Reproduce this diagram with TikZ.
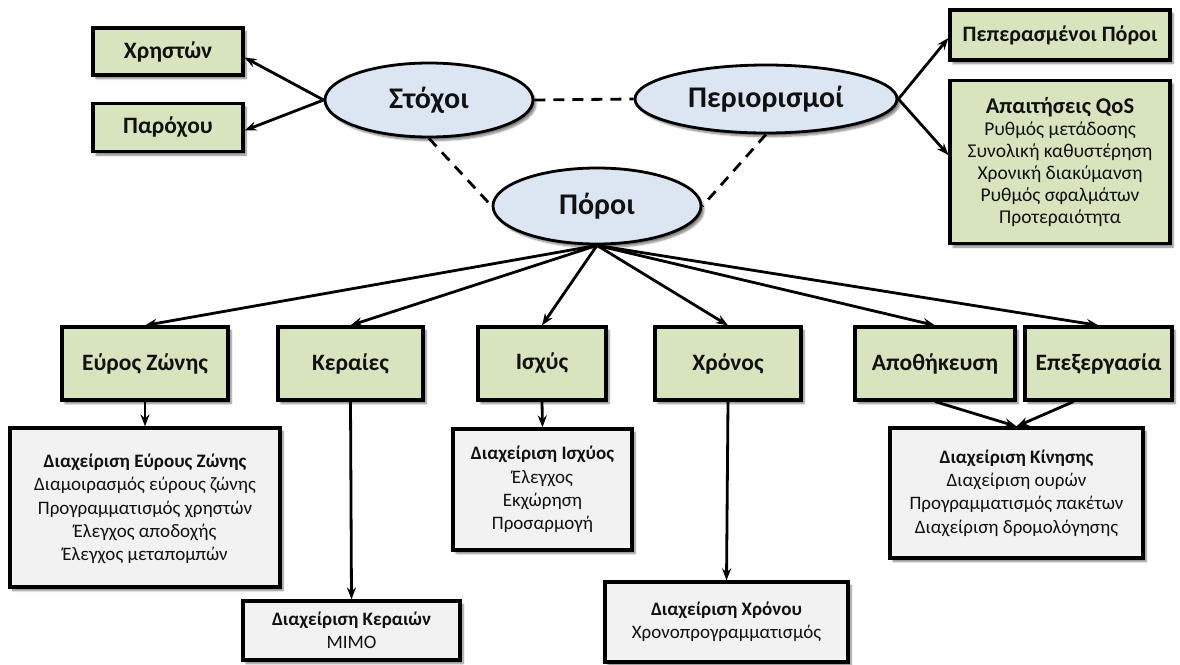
\documentclass[tikz,border=0pt]{standalone}
\usepackage{fontspec}
\setmainfont{Carlito}
\usetikzlibrary{shapes.geometric,arrows.meta,shadows.blur}
\definecolor{boxgreen}{HTML}{D7E4BD}
\definecolor{ellblue}{HTML}{DCE6F2}
\definecolor{boxgray}{HTML}{F2F2F2}
\definecolor{txt}{HTML}{111111}
\begin{document}
\begin{tikzpicture}[x=1pt,y=-1pt,
  shadowed/.style={blur shadow={shadow xshift=3pt,shadow yshift=-3.5pt,shadow blur steps=6,shadow opacity=50}},
  greenbox/.style={draw=black,line width=3.2pt,fill=boxgreen,inner sep=0pt,align=center,text=txt,
    font=\fontsize{23.5}{27}\selectfont\bfseries,shadowed},
  graybox/.style={draw=black,line width=3.2pt,fill=boxgray,inner sep=0pt,align=center,text=txt,
    font=\fontsize{19}{23.3}\selectfont,shadowed},
  qosbox/.style={draw=black,line width=3.2pt,fill=boxgreen,inner sep=0pt,align=center,text=txt,
    font=\fontsize{19.5}{22}\selectfont,shadowed},
  ell/.style={ellipse,draw=black,line width=2.8pt,fill=ellblue,inner sep=0pt,text=txt,
    font=\fontsize{30}{34}\selectfont\bfseries,shadowed},
  arr/.style={draw=black,line width=2.8pt,-{Stealth[length=12pt,width=9pt,inset=4pt]}},
  dsh/.style={draw=black,line width=2.8pt,dash pattern=on 11pt off 8pt}
]
\useasboundingbox (0,0) rectangle (1180,664);

% top level
\node[greenbox,minimum width=150pt,minimum height=47pt] (chr) at (168,51.5) {Χρηστών};
\node[greenbox,minimum width=150pt,minimum height=48pt] (par) at (168,127.5) {Παρόχου};
\node[ell,minimum width=208pt,minimum height=74pt] (stoxoi) at (429,100) {Στόχοι};
\node[ell,minimum width=262pt,minimum height=68pt] (perior) at (766,99) {Περιορισμοί};
\node[ell,minimum width=208pt,minimum height=76pt] (poroi) at (597,206) {Πόροι};
\node[greenbox,minimum width=220pt,minimum height=50pt,font=\fontsize{22}{26}\selectfont\bfseries] (pep) at (1060,35) {Πεπερασμένοι Πόροι};
\node[qosbox,minimum width=220pt,minimum height=163pt] (qos) at (1060,162)
  {\textbf{\fontsize{22.5}{24}\selectfont Απαιτήσεις QoS}\\Ρυθμός μετάδοσης\\Συνολική καθυστέρηση\\Χρονική διακύμανση\\Ρυθμός σφαλμάτων\\Προτεραιότητα};

% second row
\node[greenbox,minimum width=166pt,minimum height=73pt] (eurz) at (145,363.5) {Εύρος Ζώνης};
\node[greenbox,minimum width=145pt,minimum height=73pt] (ker) at (350.5,363.5) {Κεραίες};
\node[greenbox,minimum width=128pt,minimum height=73pt] (isx) at (542,363.5) {Ισχύς};
\node[greenbox,minimum width=146pt,minimum height=73pt] (xro) at (728,363.5) {Χρόνος};
\node[greenbox,minimum width=160pt,minimum height=73pt] (apo) at (935,363.5) {Αποθήκευση};
\node[greenbox,minimum width=147pt,minimum height=73pt] (epe) at (1098.5,363.5) {Επεξεργασία};

% bottom boxes
\node[graybox,minimum width=270pt,minimum height=159pt,text depth=-8pt] (dez) at (145,507.5)
  {\textbf{Διαχείριση Εύρους Ζώνης}\\Διαμοιρασμός εύρους ζώνης\\Προγραμματισμός χρηστών\\Έλεγχος αποδοχής\\Έλεγχος μεταπομπών};
\node[graybox,minimum width=217pt,minimum height=59pt] (dke) at (351.5,630.5)
  {\textbf{Διαχείριση Κεραιών}\\MIMO};
\node[graybox,minimum width=179pt,minimum height=121pt] (dis) at (542.5,489.5)
  {\textbf{Διαχείριση Ισχύος}\\Έλεγχος\\Εκχώρηση\\Προσαρμογή};
\node[graybox,minimum width=243pt,minimum height=80pt] (dxr) at (726.5,622)
  {\textbf{Διαχείριση Χρόνου}\\Χρονοπρογραμματισμός};
\node[graybox,minimum width=253pt,minimum height=130pt] (dki) at (1016.5,493)
  {\textbf{Διαχείριση Κίνησης}\\Διαχείριση ουρών\\Προγραμματισμός πακέτων\\Διαχείριση δρομολόγησης};

% connectors
\draw[arr] (stoxoi.west) -- ([yshift=-6pt]chr.east);
\draw[arr] (stoxoi.west) -- ([yshift=-3pt]par.east);
\draw[dsh] (stoxoi.east) -- (perior.west);
\draw[dsh] (stoxoi.south) -- (poroi.west);
\draw[dsh] (perior.south) -- (poroi.east);
\draw[arr] (perior.east) -- ([yshift=-3pt]pep.west);
\draw[arr] (perior.east) -- ([yshift=7pt]qos.west);

\foreach \t in {eurz,ker,isx,xro,apo,epe}
  \draw[arr] (poroi.south) -- (\t.north);

\draw[arr] (eurz.south) -- (dez.north);
\draw[arr] (ker.south) -- (dke.north);
\draw[arr] (isx.south) -- (dis.north);
\draw[arr] (xro.south) -- (dxr.north);
\draw[arr] (apo.south) -- (dki.north);
\draw[arr] ([xshift=-25pt]epe.south) -- (dki.north);
\end{tikzpicture}
\end{document}
